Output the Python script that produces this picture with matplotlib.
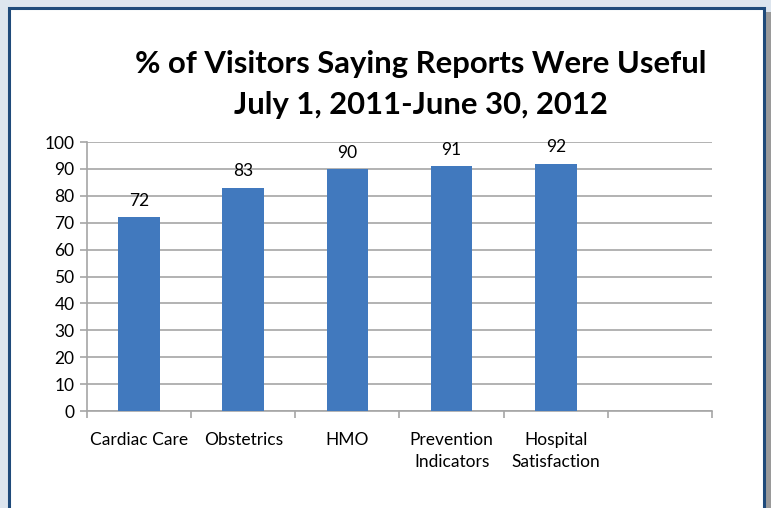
import numpy as np
import matplotlib.pyplot as plt
from matplotlib.patches import Rectangle

# data
categories = ["Cardiac Care", "Obstetrics", "HMO", "Prevention\nIndicators", "Hospital\nSatisfaction", ""]
values = [72, 83, 90, 91, 92]
title = "% of Visitors Saying Reports Were Useful\nJuly 1, 2011-June 30, 2012"

plt.rcParams['font.family'] = ['Lato', 'DejaVu Sans']

fig = plt.figure(figsize=(7.71, 5.08), dpi=100)
fig.patch.set_facecolor('#dde5ee')

# white panel with blue frame and a grey shadow on the right
fig.patches.append(Rectangle((765 / 771, 0), 6 / 771, 1 - 12 / 508, transform=fig.transFigure,
                             facecolor='#9a9a9a', edgecolor='none', zorder=-2))
fig.patches.append(Rectangle((9 / 771, -0.05), 755 / 771, 1.05 - 8 / 508, transform=fig.transFigure,
                             facecolor='white', edgecolor='#1f4a7a', linewidth=2.2, zorder=-1))

ax = fig.add_axes([87 / 771, 1 - 411 / 508, 625 / 771, 269 / 508])
ax.set_facecolor('none')
ax.set_zorder(2)

x = np.arange(len(values))
bars = ax.bar(x, values, width=0.4, color='#4179be', zorder=3)
for xi, v in zip(x, values):
    ax.annotate(str(v), (xi, v), xytext=(0, 6), textcoords='offset points',
                ha='center', va='bottom', fontsize=12.5, color='black')

ax.set_xlim(-0.5, len(categories) - 0.5)
ax.set_ylim(0, 100)
ax.set_yticks(range(0, 101, 10))
ax.yaxis.grid(True, color='#a6a6a6', linewidth=1.2, zorder=0)
ax.tick_params(axis='y', length=5, color='#a6a6a6', width=1.2, labelsize=12.5, pad=4)

ax.set_xticks(np.arange(-0.5, len(categories), 1))
ax.set_xticklabels([])
ax.set_xticks(np.arange(len(categories)), minor=True)
ax.set_xticklabels(categories, minor=True, fontsize=12.5, linespacing=1.5)
ax.tick_params(axis='x', which='major', length=5, color='#a6a6a6', width=1.2)
ax.tick_params(axis='x', which='minor', length=0, pad=15)

for s in ['top', 'right']:
    ax.spines[s].set_visible(False)
for s in ['left', 'bottom']:
    ax.spines[s].set_color('#a6a6a6')
    ax.spines[s].set_linewidth(1.2)

fig.text(0.546, 1 - 84.5 / 508, title, ha='center', va='center', fontsize=22.3,
         fontweight='bold', linespacing=1.58, zorder=5)

fig.savefig('out.png', dpi=100, facecolor=fig.get_facecolor())
